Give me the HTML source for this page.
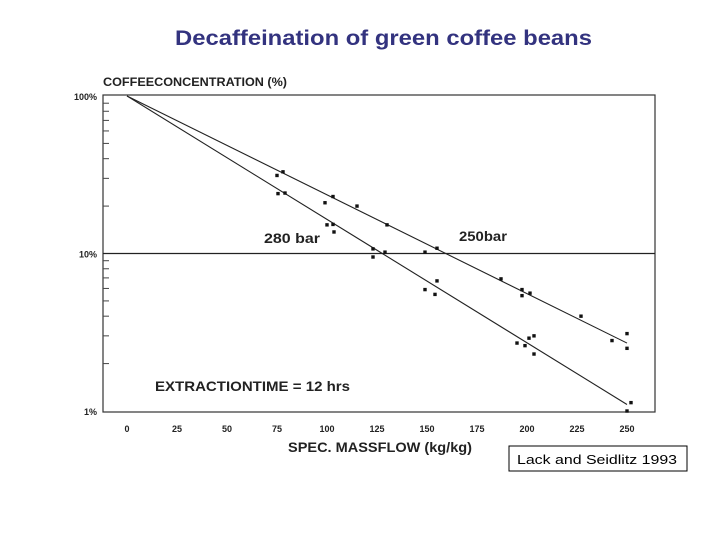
<!DOCTYPE html>
<html><head><meta charset="utf-8">
<style>
body{margin:0;background:#fff;}
svg{display:block;font-family:"Liberation Sans",Arial,sans-serif;}
</style></head>
<body>
<svg id="chart" width="720" height="540">
<text x="175" y="45" font-size="21" font-weight="bold" fill="#33337f" textLength="417" lengthAdjust="spacingAndGlyphs">Decaffeination of green coffee beans</text>
<text x="103" y="86" font-size="12" font-weight="bold" fill="#222" textLength="184" lengthAdjust="spacingAndGlyphs">COFFEECONCENTRATION (%)</text>
<rect x="103" y="95" width="552" height="317" fill="none" stroke="#333" stroke-width="1.2"/>
<g id="grid"></g><g id="ticks"></g><g id="lines"></g><g id="points"></g>
<text x="264" y="243" font-size="14" font-weight="bold" fill="#222" textLength="56" lengthAdjust="spacingAndGlyphs">280 bar</text>
<text x="459" y="241" font-size="14" font-weight="bold" fill="#222" textLength="48" lengthAdjust="spacingAndGlyphs">250bar</text>
<text x="155" y="391" font-size="14" font-weight="bold" fill="#222" textLength="195" lengthAdjust="spacingAndGlyphs">EXTRACTIONTIME = 12 hrs</text>
<text x="288" y="452" font-size="14" font-weight="bold" fill="#222" textLength="184" lengthAdjust="spacingAndGlyphs">SPEC. MASSFLOW (kg/kg)</text>
<rect x="509" y="446" width="178" height="25" fill="#fff" stroke="#000" stroke-width="1"/>
<text x="517" y="464" font-size="13" fill="#000" textLength="160" lengthAdjust="spacingAndGlyphs">Lack and Seidlitz 1993</text>
</svg>
<script>
const xTicks=[0,25,50,75,100,125,150,175,200,225,250];
const yTicks=[100,10,1];
const yTickLabels=["100%","10%","1%"];
const x250=[75,78,103,115,130,149,155,187,197.5,197.5,201.5,227,242.5,250,250];
const y250=[31.3,33,23,20,15.2,10.2,10.8,6.9,5.9,5.4,5.6,4.0,2.8,3.1,2.5];
const x280=[75.5,79,99,100,103,103.5,123,123,129,149,155,154,195,199,201,203.5,203.5,250,252];
const y280=[24,24.2,21,15.2,15.3,13.7,10.7,9.5,10.2,5.9,6.7,5.5,2.7,2.6,2.9,3.0,2.3,1.0,1.13];
const fitX=[0,250];
const fit250=[100,2.7];
const fit280=[100,1.1];
const NS="http://www.w3.org/2000/svg";
const xs=v=>127+v*2.0;
const ys=v=>96+(2-Math.log10(v))*157.5;
function mk(tag,attrs,parent){const e=document.createElementNS(NS,tag);for(const k in attrs)e.setAttribute(k,attrs[k]);document.getElementById(parent).appendChild(e);return e;}
xTicks.forEach(t=>{
 const e=mk('text',{x:xs(t),y:432,'text-anchor':'middle','font-size':'9','font-weight':'bold',fill:'#222'},'ticks');
 e.textContent=t;
 
 
});
yTicks.forEach((t,i)=>{
 const e=mk('text',{x:97,y:ys(t)+4,'text-anchor':'end','font-size':'9','font-weight':'bold',fill:'#222'},'ticks');
 e.textContent=yTickLabels[i];
 
 
});
[2,3,4,5,6,7,8,9,20,30,40,50,60,70,80,90].forEach(t=>{
 const e=mk('line',{x1:103,x2:109,y1:ys(t),y2:ys(t),stroke:'#444','stroke-width':1},'ticks');
 
 
});
const g=mk('line',{x1:103,x2:655,y1:ys(10),y2:ys(10),stroke:'#222','stroke-width':1.3},'grid');


[[fit250,'fit-line-250bar'],[fit280,'fit-line-280bar']].forEach(([f,n])=>{
 const l=mk('line',{x1:xs(fitX[0]),y1:ys(f[0]),x2:xs(fitX[1]),y2:ys(f[1]),stroke:'#222','stroke-width':1.1},'lines');
 
 
});
x250.forEach((x,i)=>{
 const c=mk('rect',{x:xs(x)-1.7,y:ys(y250[i])-1.7,width:3.4,height:3.4,fill:'#111'},'points');
 
 
});
x280.forEach((x,i)=>{
 const c=mk('rect',{x:xs(x)-1.7,y:ys(y280[i])-1.7,width:3.4,height:3.4,fill:'#111'},'points');
 
 
});
</script>
</body></html>
